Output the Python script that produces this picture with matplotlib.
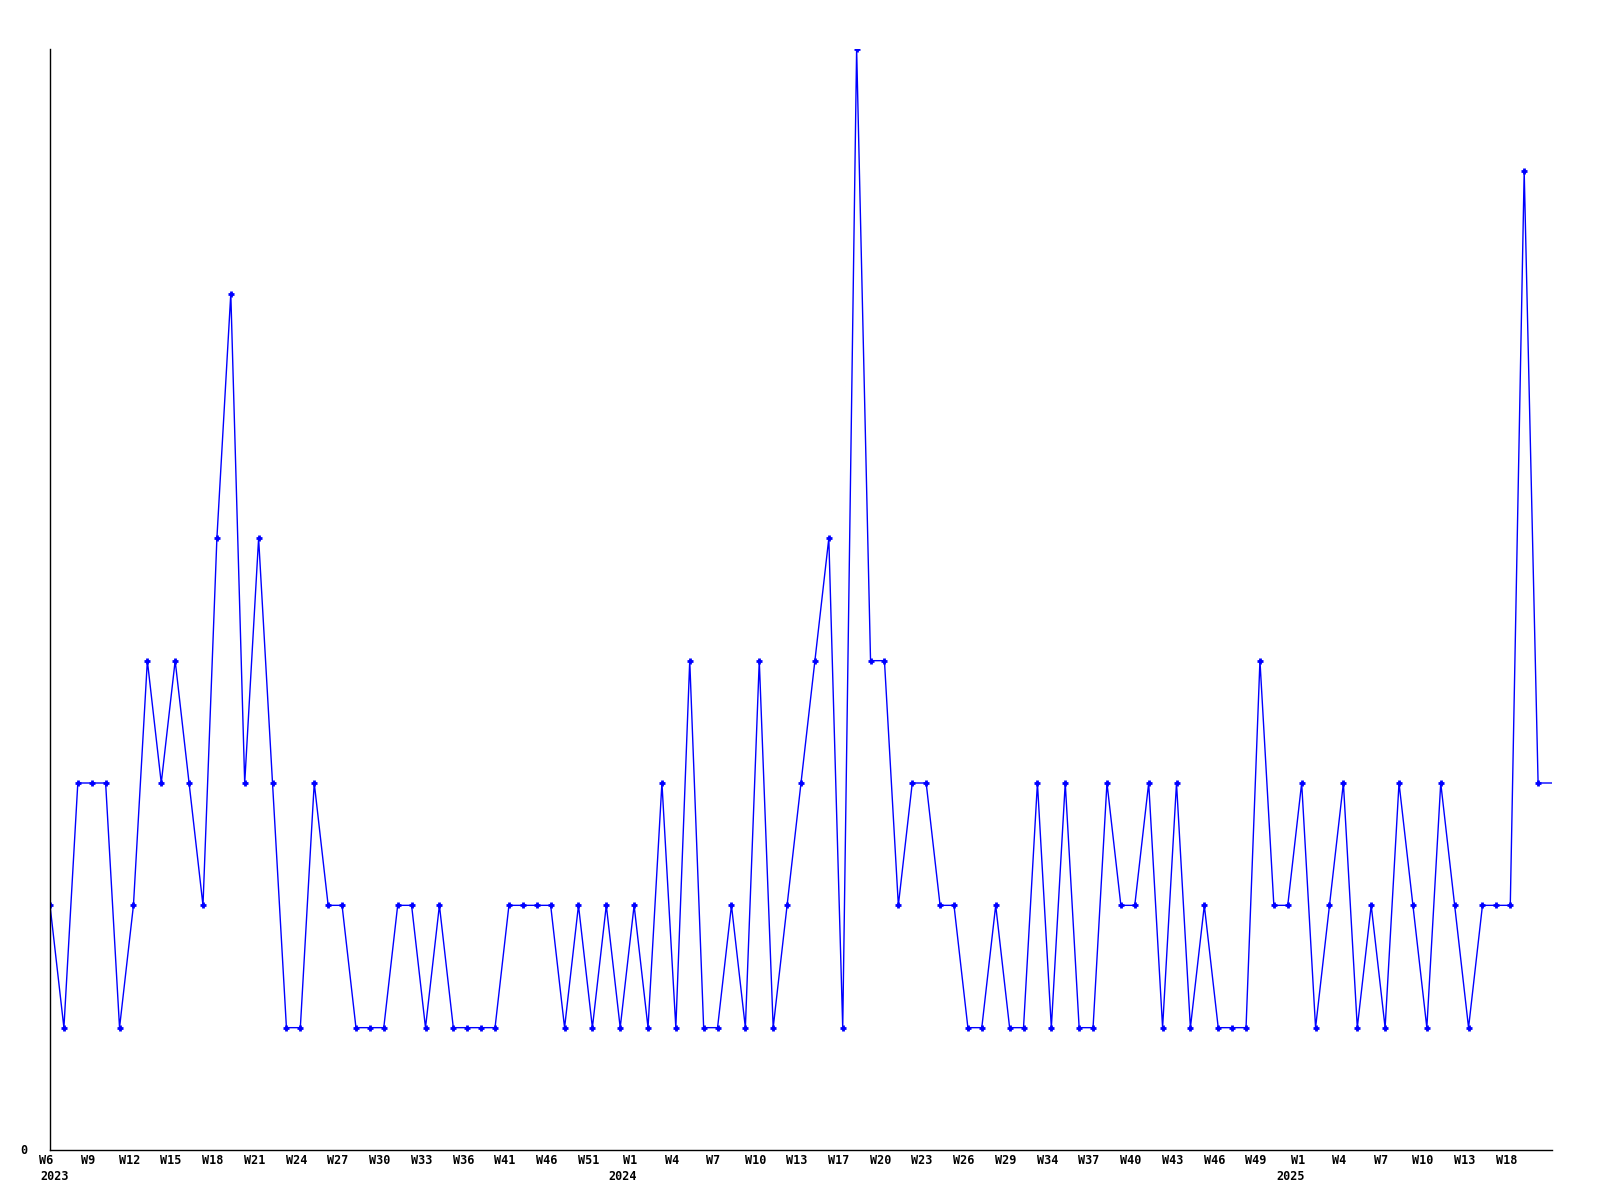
import matplotlib
matplotlib.use("Agg")
import matplotlib.pyplot as plt
import matplotlib.transforms as mtransforms

# Weekly counts (index-based x axis, last point = current partial week)
values = [2, 1, 3, 3, 3, 1, 2, 4, 3, 4, 3, 2, 5, 7, 3, 5, 3, 1, 1, 3,
          2, 2, 1, 1, 1, 2, 2, 1, 2, 1, 1, 1, 1, 2, 2, 2, 2, 1, 2, 1,
          2, 1, 2, 1, 3, 1, 4, 1, 1, 2, 1, 4, 1, 2, 3, 4, 5, 1, 9, 4,
          4, 2, 3, 3, 2, 2, 1, 1, 2, 1, 1, 3, 1, 3, 1, 1, 3, 2, 2, 3,
          1, 3, 1, 2, 1, 1, 1, 4, 2, 2, 3, 1, 2, 3, 1, 2, 1, 3, 2, 1,
          3, 2, 1, 2, 2, 2, 8, 3, 3]

week_labels = ["W6", "W9", "W12", "W15", "W18", "W21", "W24", "W27", "W30",
               "W33", "W36", "W41", "W46", "W51",
               "W1", "W4", "W7", "W10", "W13", "W17", "W20", "W23", "W26",
               "W29", "W34", "W37", "W40", "W43", "W46", "W49",
               "W1", "W4", "W7", "W10", "W13", "W18"]
label_step = 3
year_labels = ["2023", "2024", "2025"]
year_label_index = [0, 42, 90]

fig = plt.figure(figsize=(16, 12), dpi=100)
ax = fig.add_axes([50 / 1600, 1 - 1150 / 1200, 1502 / 1600, 1101 / 1200])

x = list(range(len(values)))
ax.plot(x, values, color="#0000ff", lw=1.0, marker="+", markersize=5,
        markeredgewidth=2, markevery=list(range(len(values) - 1)))

ax.set_xlim(0, len(values) - 1)
ax.set_ylim(0, 9)
for s in ("top", "right"):
    ax.spines[s].set_visible(False)
for s in ("left", "bottom"):
    ax.spines[s].set_linewidth(1.0)
    ax.spines[s].set_color("black")
ax.set_xticks([])
ax.set_yticks([])

font = dict(family="DejaVu Sans Mono", fontsize=8.5, fontweight="bold")
px = 72 / 100  # points per pixel


def off(dx, dy):
    return ax.get_xaxis_transform() + mtransforms.ScaledTranslation(
        dx * px / 72, dy * px / 72, fig.dpi_scale_trans)


for i, lab in enumerate(week_labels):
    ax.text(i * label_step, 0, lab, transform=off(-4, -11), ha="center",
            va="center", **font)

for idx, yl in zip(year_label_index, year_labels):
    if idx == 0:
        ax.text(idx, 0, yl, transform=off(-10, -27), ha="left", va="center", **font)
    else:
        ax.text(idx, 0, yl, transform=off(3, -27), ha="right", va="center", **font)

ax.text(0, 0, "0", transform=off(-23, 0), ha="right", va="center", **font)

fig.savefig("out.png", dpi=100, facecolor="white")
